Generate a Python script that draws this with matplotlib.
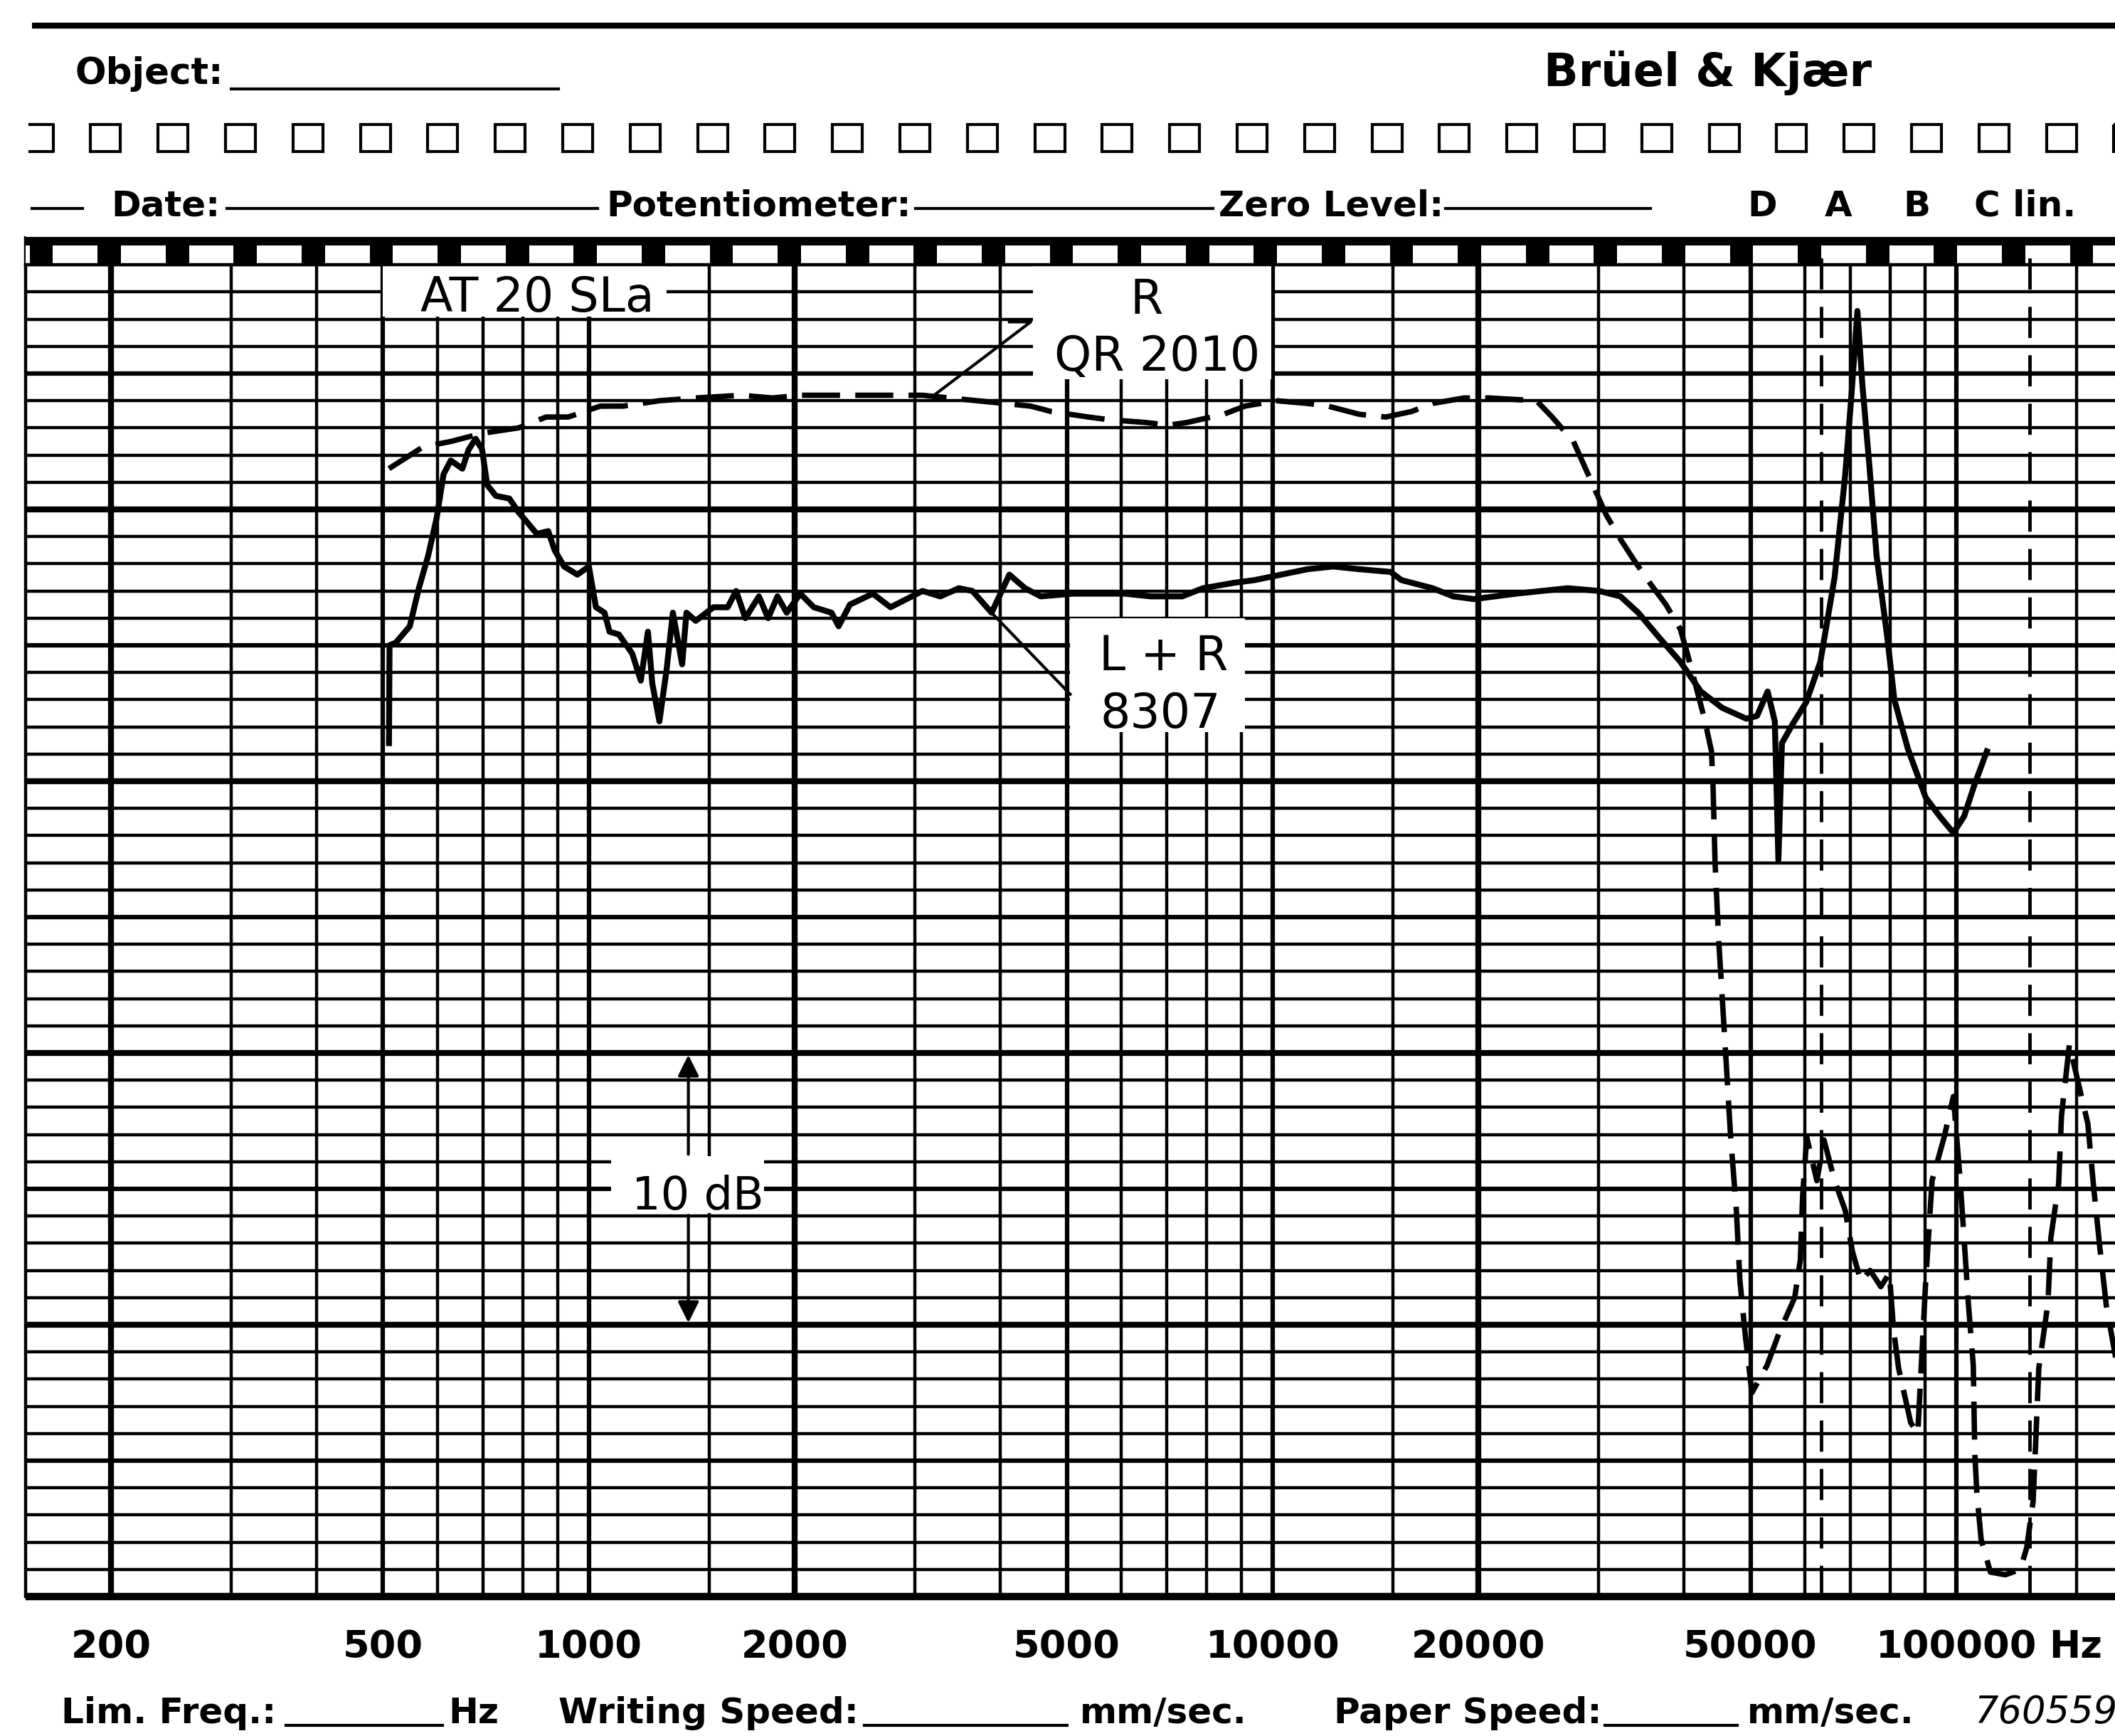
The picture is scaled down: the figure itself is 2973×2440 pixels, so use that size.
import matplotlib.pyplot as plt
import matplotlib.transforms as mtransforms
from matplotlib.patches import Rectangle

# L + R (8307) trace, solid pen: frequency (Hz) and level (dB on the 50 dB paper)
lr_freq = [510, 511, 522, 547, 564, 582, 599, 613, 628, 653, 667, 683, 698, 710, 731,
           765, 789, 814, 839, 872, 891, 920, 962, 1000, 1024, 1054, 1072, 1106, 1157,
           1191, 1220, 1238, 1268, 1299, 1327, 1369, 1389, 1433, 1521, 1596, 1642, 1694,
           1773, 1829, 1887, 1947, 2038, 2133, 2264, 2319, 2409, 2602, 2762, 3076, 3266,
           3476, 3639, 3882, 4121, 4345, 4580, 5101, 5561, 6075, 6639, 7378, 7907, 8786,
           9419, 10292, 11246, 12263, 13397, 14885, 15432, 17145, 18379, 19701, 22696,
           27033, 30038, 32276, 34272, 36728, 39477, 42309, 45469, 49317, 51120, 52985,
           54280, 54939, 55600, 57637, 60315, 63290, 66390, 68820, 70310, 71690, 72893,
           74646, 76469, 79270, 81190, 84950, 90225, 94650, 99050, 102660, 106440, 110860]
lr_db = [31.4, 35.0, 35.1, 35.7, 37.1, 38.3, 39.7, 41.3, 41.8, 41.5, 42.2, 42.6, 42.2, 40.9, 40.5,
         40.4, 39.9, 39.5, 39.1, 39.2, 38.5, 37.9, 37.6, 37.9, 36.4, 36.2, 35.5, 35.4, 34.7,
         33.7, 35.5, 33.6, 32.2, 34.1, 36.2, 34.3, 36.2, 35.9, 36.4, 36.4, 37.0, 36.0,
         36.8, 36.0, 36.8, 36.2, 36.9, 36.4, 36.2, 35.7, 36.5, 36.9, 36.4, 37.0, 36.8,
         37.1, 37.0, 36.2, 37.6, 37.1, 36.8, 36.9, 36.9, 36.9, 36.8, 36.8, 37.1, 37.3,
         37.4, 37.6, 37.8, 37.9, 37.8, 37.7, 37.4, 37.1, 36.8, 36.7, 36.9,
         37.1, 37.0, 36.8, 36.2, 35.3, 34.4, 33.3, 32.7, 32.3, 32.4, 33.3,
         32.2, 27.1, 31.4, 32.1, 32.9, 34.4, 37.5, 41.3, 44.3, 47.3, 44.6,
         41.6, 38.3, 35.3, 33.0, 31.2, 29.4, 28.7, 28.1, 28.7, 29.9, 31.1]

# R (QR 2010) trace, dashed pen
qr_freq = [510, 572, 628, 698, 789, 866, 933, 1039, 1122, 1268, 1433, 1670, 1856, 2038,
           2444, 2762, 3076, 3370, 4052, 4429, 4748, 5377, 5764, 6512, 7048, 7502, 8477,
           9108, 10120, 11246, 12055, 13397, 14642, 15958, 17145, 19054, 20770, 24322,
           25640, 27550, 29531, 30761, 32276, 33855, 35850, 37613, 39477, 40430, 42824,
           43856, 44100, 44386, 44920, 45790, 46780, 47690, 48270, 49200, 50250, 52870,
           55070, 58040, 59160, 59600, 60440, 62540, 64060, 66390, 68820, 70490, 72540,
           74830, 77570, 79830, 80990, 82360, 85780, 87850, 90225, 92180, 96010, 99050,
           101200, 102660, 104160, 105920, 106440, 107200, 108750, 112200, 117990, 124090,
           126800, 129550, 130800, 132050, 136200, 137530, 141200, 142560, 146370, 155780,
           158800, 162260, 165800, 171060]
qr_db = [41.5, 42.3, 42.5, 42.8, 43.0, 43.4, 43.4, 43.8, 43.8, 44.0, 44.1, 44.2, 44.1, 44.2,
         44.2, 44.2, 44.2, 44.1, 43.9, 43.8, 43.6, 43.4, 43.3, 43.2, 43.1, 43.2, 43.5,
         43.8, 44.0, 43.9, 43.8, 43.5, 43.4, 43.6, 43.9, 44.1, 44.1, 44.0,
         43.4, 42.5, 40.8, 39.8, 38.9, 38.1, 37.2, 36.5, 35.6, 34.7, 32.3,
         31.1, 29.7, 27.0, 24.2, 20.8, 16.9, 14.2, 11.6, 9.5, 7.5, 8.5,
         9.7, 11.0, 12.4, 14.7, 16.9, 15.3, 16.8, 15.3, 14.2, 12.7, 11.6,
         12.0, 11.4, 11.9, 9.8, 8.4, 6.4, 6.0, 11.6, 15.3, 16.9, 18.4,
         15.5, 13.2, 10.8, 8.5, 5.3, 3.8, 2.1, 0.9, 0.8, 1.0,
         1.8, 3.5, 5.9, 8.4, 10.8, 13.2, 15.2, 17.7, 20.3, 17.4,
         15.1, 12.8, 10.7, 8.8]

tick_freqs = [200, 500, 1000, 2000, 5000, 10000, 20000, 50000, 100000]
tick_labels = ['200', '500', '1000', '2000', '5000', '10000', '20000', '50000', '100000']

W, H = 2973, 2440
fig = plt.figure(figsize=(W / 100, H / 100), dpi=100)
fig.patch.set_facecolor('white')

# pixel-space layer for the printed form around the chart
paper = fig.add_axes([0, 0, 1, 1])
paper.set_xlim(0, W)
paper.set_ylim(H, 0)
paper.axis('off')

# chart grid area
gx0, gtop, gbot = 36, 334, 2244
ax = fig.add_axes([gx0 / W, (H - gbot) / H, (W - gx0) / W, (gbot - gtop) / H])
ax.set_xscale('log')
ax.set_xlim(150, 170700)
ax.set_ylim(0, 50)
ax.axis('off')

# --- header ---
paper.plot([45, W], [36, 36], color='k', lw=6, solid_capstyle='butt')
paper.text(105, 118, 'Object:', fontsize=37, fontweight='bold', ha='left', va='baseline')
paper.plot([325, 785], [125, 125], color='k', lw=3)
paper.text(2170, 121, 'Brüel & Kjær', fontsize=46, fontweight='bold', ha='left', va='baseline')

# row of perforation squares
paper.plot([42, 75, 75, 42], [175, 175, 213, 213], color='k', lw=3)
for k in range(1, 32):
    cx = 53.6 + 94.8 * k
    paper.add_patch(Rectangle((cx - 21, 175), 42, 38, fill=False, ec='k', lw=3))

# date row
for xa, xb in [(45, 116), (319, 840), (1287, 1705), (2032, 2320)]:
    paper.plot([xa, xb], [293, 293], color='k', lw=3)
for xt, s in [(156, 'Date:'), (852, 'Potentiometer:'), (1713, 'Zero Level:'),
              (2456, 'D'), (2565, 'A'), (2675, 'B'), (2775, 'C lin.')]:
    paper.text(xt, 304, s, fontsize=36, fontweight='bold', ha='left', va='baseline')

# --- footer ---
for xt, s in [(86, 'Lim. Freq.:'), (630, 'Hz'), (785, 'Writing Speed:'), (1518, 'mm/sec.'),
              (1875, 'Paper Speed:'), (2456, 'mm/sec.')]:
    paper.text(xt, 2422, s, fontsize=36, fontweight='bold', ha='left', va='baseline')
for xa, xb in [(402, 622), (1215, 1500), (2256, 2442)]:
    paper.plot([xa, xb], [2425, 2425], color='k', lw=3)
paper.text(2775, 2422, '760559', fontsize=38, fontstyle='italic', ha='left', va='baseline')

# frequency labels under the grid
lab = mtransforms.blended_transform_factory(ax.transData, ax.transAxes)
for f, s in zip(tick_freqs, tick_labels):
    ax.text(f, -0.045, s, transform=lab, fontsize=39, fontweight='bold',
            ha='center', va='baseline', clip_on=False)
paper.text(2880, 2330, 'Hz', fontsize=38, fontweight='bold', ha='left', va='baseline')

# --- chart paper grid ---
for dec in [100, 1000, 10000, 100000]:
    for m in [1, 1.5, 2, 3, 4, 5, 6, 7, 8, 9]:
        f = m * dec
        if f < 150 or f > 170700:
            continue
        lw = 6 if m == 2 else (4.5 if m in (1, 5) else 3.2)
        ax.axvline(f, color='k', lw=lw, zorder=1, clip_on=False)
for d in range(0, 51):
    lw = 7.5 if d == 0 else (6 if d % 10 == 0 else (4.5 if d % 5 == 0 else 3.2))
    ax.axhline(d, color='k', lw=lw, zorder=1, clip_on=False, solid_capstyle='butt')

# sprocket strip along the top of the grid
strip = mtransforms.blended_transform_factory(ax.transAxes, ax.transData)
ax.add_patch(Rectangle((0, 49.06), 1, 1.3, transform=strip, fc='white', ec='none',
                       zorder=2, clip_on=False))
ax.add_patch(Rectangle((0, 49.71), 1, 0.31, transform=strip, fc='k', ec='none',
                       zorder=2.5, clip_on=False))
ax.plot([0, 1], [49, 49], transform=strip, color='k', lw=3.2, zorder=2.5, clip_on=False)
for k in range(31):
    xc = (58 + 95.6 * k - gx0) / (W - gx0)
    ax.add_patch(Rectangle((xc - 0.0056, 49.0), 0.0112, 0.75, transform=strip,
                           fc='k', ec='none', zorder=2.5, clip_on=False))

# white label patches on the grid
for fa, fb, da, db in [(500, 1299, 47.1, 49.0), (4460, 9950, 44.8, 49.0),
                       (5058, 9118, 31.8, 36.0), (1077, 1803, 14.1, 16.2)]:
    ax.add_patch(Rectangle((fa, da), fb - fa, db - da, fc='white', ec='none', zorder=2))

# dashed markers
for f in [63500, 128000]:
    ax.axvline(f, color='k', lw=3.5, ls=(0, (9, 5)), zorder=2.2)

# traces
ax.plot(lr_freq, lr_db, color='k', lw=6, solid_joinstyle='round', zorder=3)
ax.plot(qr_freq, qr_db, color='k', lw=5.5, ls=(0, (7, 2.8)), zorder=3)

# annotations
ax.plot([4121, 4428, 3197], [46.9, 46.9, 44.2], color='k', lw=3, zorder=3)
ax.plot([5058, 3780], [33.2, 36.5], color='k', lw=3, zorder=3)
ax.text(841, 47.28, 'AT 20 SLa', fontsize=48, ha='center', va='baseline', zorder=4)
ax.text(6546, 47.2, 'R', fontsize=48, ha='center', va='baseline', zorder=4)
ax.text(6780, 45.1, 'QR 2010', fontsize=48, ha='center', va='baseline', zorder=4)
ax.text(6926, 34.08, 'L + R', fontsize=48, ha='center', va='baseline', zorder=4)
ax.text(6850, 31.96, '8307', fontsize=48, ha='center', va='baseline', zorder=4)
ax.text(1443, 14.24, '10 dB', fontsize=46, ha='center', va='baseline', zorder=4)
ax.annotate('', xy=(1398, 20), xytext=(1398, 16.2),
            arrowprops=dict(arrowstyle='-|>', color='k', lw=3, mutation_scale=45), zorder=4)
ax.annotate('', xy=(1398, 10), xytext=(1398, 14.1),
            arrowprops=dict(arrowstyle='-|>', color='k', lw=3, mutation_scale=45), zorder=4)

fig.savefig('out.png', dpi=100, facecolor='white')
